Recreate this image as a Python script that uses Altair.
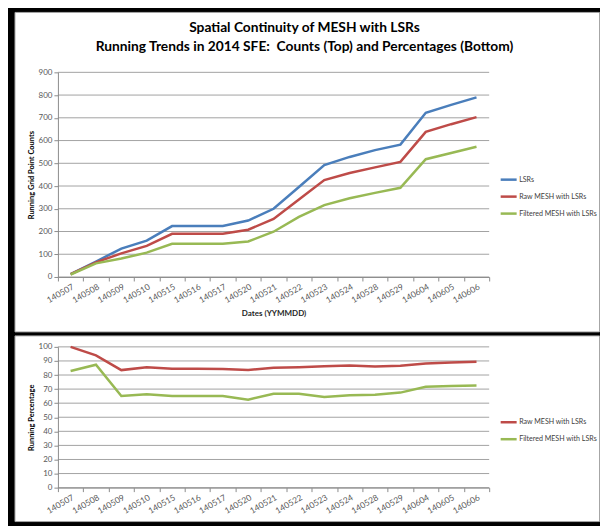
import altair as alt
import pandas as pd

dates = ["140507", "140508", "140509", "140510", "140515", "140516", "140517",
         "140520", "140521", "140522", "140523", "140524", "140528", "140529",
         "140604", "140605", "140606"]
lsrs_counts = [13, 68, 125, 160, 224, 224, 224, 248, 300, 396, 492, 528, 558, 582, 722, 757, 790]
raw_counts = [13, 64, 104, 137, 190, 190, 190, 208, 255, 341, 426, 457, 482, 506, 638, 672, 703]
filtered_counts = [11, 60, 81, 107, 146, 146, 146, 156, 199, 264, 316, 346, 370, 392, 518, 545, 573]
raw_pct = [100, 94, 83.5, 85.6, 84.4, 84.4, 84.2, 83.6, 85.1, 85.6, 86.3, 86.8, 86.1, 86.6, 88.2, 88.9, 89.4]
filtered_pct = [82.8, 87.3, 65.1, 66.3, 65.1, 65.1, 65.1, 62.5, 66.7, 66.7, 64.4, 65.6, 66.0, 67.5, 71.7, 72.2, 72.6]
count_ticks = list(range(0, 901, 100))
pct_ticks = list(range(0, 101, 10))
series_top = ["LSRs", "Raw MESH with LSRs", "Filtered MESH with LSRs"]
series_bottom = ["Raw MESH with LSRs", "Filtered MESH with LSRs"]
colors_top = ["#4A7EBB", "#BE4B48", "#98B954"]
colors_bottom = ["#BE4B48", "#98B954"]
title_lines = ["Spatial Continuity of MESH with LSRs",
               "Running Trends in 2014 SFE:\u00a0 Counts (Top) and Percentages (Bottom)"]

FONT = "Lato"
GRID = "#a3a3a3"
AXC = "#8c8c8c"

top_df = pd.DataFrame({
    "date": dates * 3,
    "series": [series_top[0]] * 17 + [series_top[1]] * 17 + [series_top[2]] * 17,
    "value": lsrs_counts + raw_counts + filtered_counts,
})
bot_df = pd.DataFrame({
    "date": dates * 2,
    "series": [series_bottom[0]] * 17 + [series_bottom[1]] * 17,
    "value": raw_pct + filtered_pct,
})

PW = 432


def x_enc(title):
    kw = dict(labelAngle=330, labelFont=FONT, labelFontSize=8.5, labelColor="#595959",
              labelPadding=1, tickBand="extent", tickSize=4, tickColor=AXC,
              domainColor=AXC, grid=False, zindex=1)
    if title:
        kw.update(title=title, titleFont=FONT, titleFontSize=8, titleFontWeight="bold",
                  titleColor="#262626", titlePadding=5)
    else:
        kw.update(title=None)
    return alt.X("date:N", sort=dates,
                 scale=alt.Scale(type="band", paddingInner=0, paddingOuter=0),
                 axis=alt.Axis(**kw))


def y_axis(title, ticks):
    return alt.Axis(title=title, values=ticks, grid=False, tickSize=4, tickColor=AXC,
                    domainColor=AXC, labelFont=FONT, labelFontSize=8, labelColor="#595959",
                    labelPadding=2, titleFont=FONT, titleFontSize=7.5, titleFontWeight="bold",
                    titleColor="#000000", titlePadding=3, zindex=1)


def panel(df, height, ydom, ticks, ytitle, series, colors, xtitle, bg_y, bg_y2, legend_y, titles):
    one = pd.DataFrame({"k": [0]})
    bg = alt.Chart(one).mark_rect(fill="white", stroke="#a6a6a6", strokeWidth=1).encode(
        x=alt.value(-43), x2=alt.value(542.5), y=alt.value(bg_y), y2=alt.value(bg_y2))
    grid = alt.Chart(pd.DataFrame({"tick": ticks})).mark_rule(color=GRID, strokeWidth=1).encode(
        y=alt.Y("tick:Q", scale=alt.Scale(domain=ydom, nice=False, zero=True),
                axis=y_axis(ytitle, ticks)))
    lines = alt.Chart(df).mark_line(strokeWidth=2.5).encode(
        x=x_enc(xtitle),
        y=alt.Y("value:Q", scale=alt.Scale(domain=ydom, nice=False, zero=True),
                axis=y_axis(ytitle, ticks)),
        color=alt.Color("series:N", scale=alt.Scale(domain=series, range=colors),
                        legend=alt.Legend(title=None, orient="none", legendX=442, legendY=legend_y,
                                          symbolType="stroke", symbolSize=256, symbolStrokeWidth=2.5,
                                          labelFont=FONT, labelFontSize=7.1, labelColor="#404040",
                                          labelOffset=1, rowPadding=2, padding=0, zindex=1,
                                          labelLimit=95)),
    )
    layers = [bg, grid, lines]
    for i, t in enumerate(titles):
        layers.append(alt.Chart(pd.DataFrame({"t": [t]})).mark_text(
            font=FONT, fontSize=13.8, fontWeight="bold", color="#000000",
            align="center", baseline="middle").encode(
            x=alt.value(247), y=alt.value(-44 + 19 * i), text="t:N"))
    return alt.layer(*layers).properties(width=PW, height=height)


top = panel(top_df, 205, [0, 900], count_ticks, "Running Grid Point Counts",
            series_top, colors_top, "Dates (YYMMDD)", -60, 260, 98, title_lines)
bottom = panel(bot_df, 141, [0, 100], pct_ticks, "Running Percentage",
               series_bottom, colors_bottom, None, -11, 175, 66, [])

chart = alt.vconcat(top, bottom, spacing=2).resolve_scale(color="independent").properties(
    padding={"left": 6, "top": 3, "right": 0, "bottom": 5},
    background="black",
).configure_view(strokeWidth=0)

chart.save("out.html", embed_options={"renderer": "svg", "actions": False})
